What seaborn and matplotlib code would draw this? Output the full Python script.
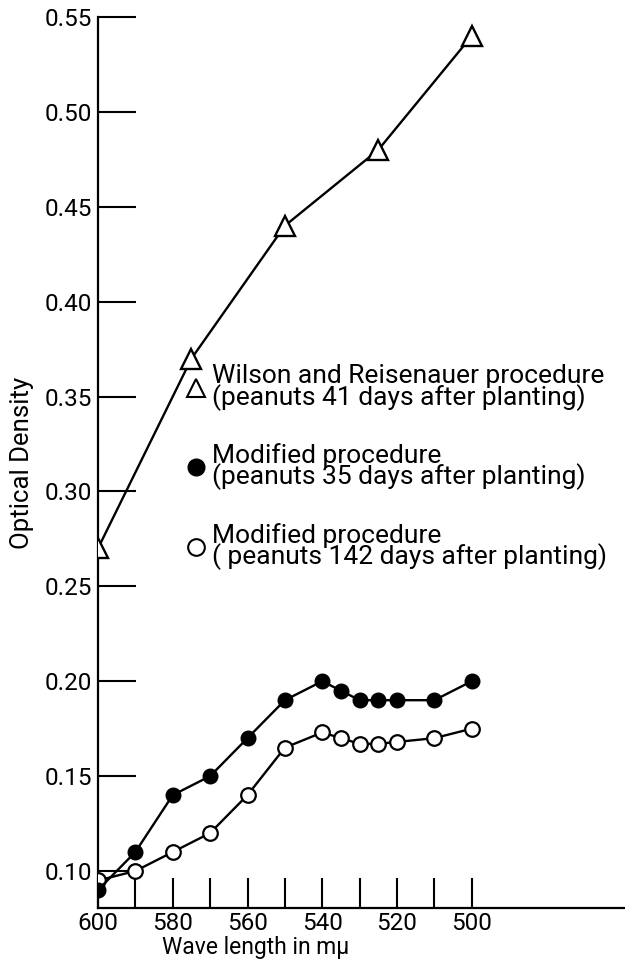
import matplotlib
matplotlib.use("Agg")
import matplotlib.pyplot as plt
import seaborn as sns
import pandas as pd
from matplotlib.lines import Line2D

# --- data ---
wr_wave = [600, 575, 550, 525, 500]
wr_od = [0.27, 0.37, 0.44, 0.48, 0.54]

mod_wave = [600, 590, 580, 570, 560, 550, 540, 535, 530, 525, 520, 510, 500]
mod35_od = [0.090, 0.110, 0.140, 0.150, 0.170, 0.190, 0.200, 0.195, 0.190, 0.190, 0.190, 0.190, 0.200]
mod142_od = [0.095, 0.100, 0.110, 0.120, 0.140, 0.165, 0.173, 0.170, 0.167, 0.167, 0.168, 0.170, 0.175]

x_ticks = [600, 590, 580, 570, 560, 550, 540, 530, 520, 510, 500]
x_ticklabels = ["600", "", "580", "", "560", "", "540", "", "520", "", "500"]
y_ticks = [0.10, 0.15, 0.20, 0.25, 0.30, 0.35, 0.40, 0.45, 0.50, 0.55]
y_ticklabels = ["0.10", "0.15", "0.20", "0.25", "0.30", "0.35", "0.40", "0.45", "0.50", "0.55"]

legend_labels = [
    "Wilson and Reisenauer procedure\n(peanuts 41 days after planting)",
    "Modified procedure\n(peanuts 35 days after planting)",
    "Modified procedure\n( peanuts 142 days after planting)",
]

sns.set_theme(style="ticks")
plt.rcParams["font.family"] = ["Roboto", "DejaVu Sans"]
plt.rcParams["text.color"] = "black"
plt.rcParams["axes.labelcolor"] = "black"
plt.rcParams["xtick.color"] = "black"
plt.rcParams["ytick.color"] = "black"

fig = plt.figure(figsize=(6.25, 9.64), dpi=100)
ax = fig.add_axes([98 / 625, 1 - 908 / 964, 1 - 98 / 625, (908 - 17) / 964])

df_wr = pd.DataFrame({"wave": wr_wave, "od": wr_od})
df_m = pd.DataFrame({"wave": mod_wave, "od35": mod35_od, "od142": mod142_od})

lw = 1.7
sns.lineplot(data=df_wr, x="wave", y="od", ax=ax, color="black", lw=lw,
             marker="^", markersize=14, markerfacecolor="white",
             markeredgecolor="black", markeredgewidth=1.7, zorder=3)
sns.lineplot(data=df_m, x="wave", y="od142", ax=ax, color="black", lw=lw,
             marker="o", markersize=10.5, markerfacecolor="white",
             markeredgecolor="black", markeredgewidth=1.6, zorder=3)
sns.lineplot(data=df_m, x="wave", y="od35", ax=ax, color="black", lw=lw,
             marker="o", markersize=10.5, markerfacecolor="black",
             markeredgecolor="black", markeredgewidth=1.0, zorder=4)

ax.set_xlim(600, 459)
ax.set_ylim(0.0805, 0.55)
ax.set_xticks(x_ticks)
ax.set_xticklabels(x_ticklabels)
ax.set_yticks(y_ticks)
ax.set_yticklabels(y_ticklabels)

sns.despine(ax=ax, top=True, right=True)
for s in ["left", "bottom"]:
    ax.spines[s].set_linewidth(1.6)
    ax.spines[s].set_color("black")

ax.tick_params(axis="x", direction="in", length=21.5, width=1.5, labelsize=17.5,
               pad=3)
ax.tick_params(axis="y", direction="in", length=27, width=1.5, labelsize=17.5,
               pad=4)

ax.set_xlabel("Wave length in m\u03bc", fontsize=16.5)
ax.set_ylabel("Optical Density", fontsize=18.5)
ax.xaxis.set_label_coords(0.30, -0.0315)
ax.yaxis.set_label_coords(-0.122, 0.50)

handles = [
    Line2D([], [], ls="none", marker="^", markersize=13, markerfacecolor="white",
           markeredgecolor="black", markeredgewidth=1.5),
    Line2D([], [], ls="none", marker="o", markersize=12, markerfacecolor="black",
           markeredgecolor="black"),
    Line2D([], [], ls="none", marker="o", markersize=12, markerfacecolor="white",
           markeredgecolor="black", markeredgewidth=1.5),
]
leg = ax.legend(handles, legend_labels, loc="upper left",
                bbox_to_anchor=(187 / 625, 1 - 364 / 964),
                bbox_transform=fig.transFigure, frameon=False,
                fontsize=19, handlelength=0.65, handletextpad=0.28,
                labelspacing=1.22, borderpad=0, borderaxespad=0)
for t in leg.get_texts():
    t.set_linespacing(0.8)
    t.set_color("black")

fig.savefig("out.png", dpi=100)
